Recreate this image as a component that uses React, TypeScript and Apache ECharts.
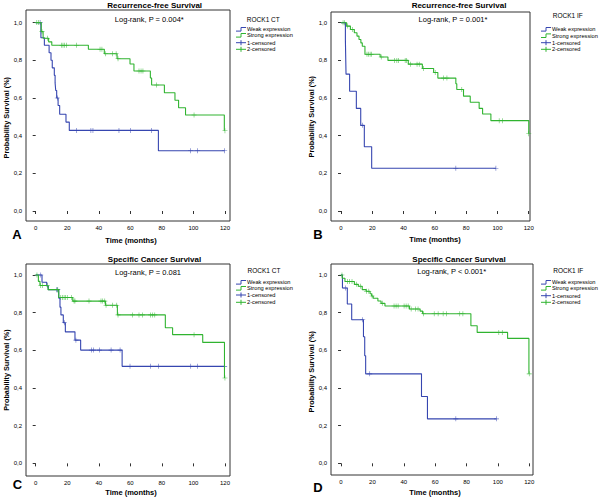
import React, { useEffect, useRef } from 'react';
import * as echarts from 'echarts';

// ---------- tick labels ----------
const xTicks = [0, 20, 40, 60, 80, 100, 120];
const yTicks = [0, 0.2, 0.4, 0.6, 0.8, 1.0];

// ---------- Panel A: Recurrence-free Survival, ROCK1 CT ----------
const aWeakTime = [0, 3.3, 5.5, 8.5, 9.7, 10.5, 11.8, 12.3, 12.7, 13.3, 14.2, 15.2, 19.2, 21.3, 77.8, 119.8];
const aWeakSurv = [1, 0.92, 0.88, 0.84, 0.8, 0.76, 0.72, 0.68, 0.64, 0.6, 0.56, 0.514, 0.472, 0.428, 0.32, 0.32];
const aWeakCens = [2.8, 13.7, 26, 35, 36.3, 52.8, 60, 73.3, 98.2, 102.7, 119.8];
const aStrongTime = [0, 3.5, 4.7, 8.2, 10.2, 33.4, 43.5, 51.6, 59.8, 62.3, 72.7, 73.5, 81.6, 88.3, 90.6, 95, 119.6];
const aStrongSurv = [1, 0.952, 0.917, 0.898, 0.88, 0.859, 0.835, 0.808, 0.78, 0.743, 0.706, 0.669, 0.628, 0.588, 0.548, 0.51, 0.426];
const aStrongCens = [0.7, 1.7, 4, 7.4, 16.5, 17.3, 18.3, 19.6, 26, 40.8, 42, 44.4, 48.6, 51, 52.2, 65.5, 66.8, 68, 76.7, 100.4, 120];

// ---------- Panel B: Recurrence-free Survival, ROCK1 IF ----------
const bWeakTime = [0, 2.8, 3.0, 3.2, 5.5, 9.8, 12.6, 14.9, 19.6, 99];
const bWeakSurv = [1, 0.909, 0.818, 0.727, 0.636, 0.545, 0.455, 0.341, 0.227, 0.227];
const bWeakCens = [13.8, 73.4, 99];
const bStrongTime = [0, 3.6, 6, 8.5, 10.2, 11.5, 12.7, 13.6, 15.3, 25, 30, 43, 52, 59.2, 61.9, 73.4, 74, 78.3, 82.6, 88.3, 90.5, 95.8, 120];
const bStrongSurv = [1, 0.982, 0.964, 0.947, 0.929, 0.911, 0.893, 0.875, 0.833, 0.818, 0.8, 0.78, 0.757, 0.736, 0.706, 0.676, 0.645, 0.61, 0.578, 0.545, 0.515, 0.48, 0.41];
const bStrongCens = [1.3, 2.1, 4.3, 7.2, 16.6, 17.6, 18.6, 19.6, 25.7, 34.2, 35.7, 36.7, 41, 42, 44.3, 48.6, 50, 52.8, 60.2, 65.5, 67.7, 77.2, 101.1, 103.2, 120];

// ---------- Panel C: Specific Cancer Survival, ROCK1 CT ----------
const cWeakTime = [0, 4, 7, 8, 14.6, 15.4, 16, 17.5, 18.8, 24.9, 28.5, 54.8, 119.8];
const cWeakSurv = [1, 0.961, 0.941, 0.922, 0.877, 0.829, 0.788, 0.746, 0.698, 0.654, 0.601, 0.515, 0.515];
const cWeakCens = [3.2, 13.3, 14, 18.2, 25.5, 35.3, 36.6, 40.4, 47.8, 53.5, 59.8, 72.9, 77.8, 98.3, 102.7, 119.8];
const cStrongTime = [0, 1.7, 2.7, 7.8, 14.6, 23.5, 44.2, 51.8, 82.2, 86.8, 105.9, 119.7];
const cStrongSurv = [1, 0.966, 0.944, 0.922, 0.88, 0.861, 0.839, 0.788, 0.72, 0.683, 0.642, 0.453];
const cStrongCens = [0.8, 3.2, 4.4, 7.4, 13.7, 15.9, 17, 18, 19, 20, 22.8, 24.3, 24.9, 33.8, 41.4, 42.5, 43.8, 44.6, 48.6, 51.4, 52.2, 61.5, 65.5, 67.7, 72.9, 74.2, 75.5, 100.4, 120];

// ---------- Panel D: Specific Cancer Survival, ROCK1 IF ----------
const dWeakTime = [0, 0.9, 4, 6.8, 14.3, 15.1, 15.7, 51.3, 55.1, 99.1];
const dWeakSurv = [1, 0.931, 0.846, 0.762, 0.672, 0.571, 0.475, 0.355, 0.236, 0.236];
const dWeakCens = [2.8, 13.8, 18.3, 73.2, 99.1];
const dStrongTime = [0, 0.8, 2.5, 8.5, 11, 13.5, 16, 18.5, 19.5, 20.5, 23.5, 25.5, 28, 43.6, 50.4, 52, 82.8, 86.8, 106.2, 119.8];
const dStrongSurv = [1, 0.982, 0.965, 0.95, 0.94, 0.922, 0.913, 0.9, 0.888, 0.876, 0.862, 0.849, 0.835, 0.819, 0.808, 0.794, 0.73, 0.695, 0.663, 0.475];
const dStrongCens = [0.6, 4, 5.5, 7, 9.8, 12.3, 16.2, 17.7, 19.8, 26.3, 33.8, 35.1, 36.4, 40.2, 41.5, 42.8, 44.7, 47.4, 49.1, 52.6, 59.4, 61.9, 65.1, 67.2, 75.7, 77.7, 100.6, 102.8, 120];

// ---------- texts ----------
const titles = ['Recurrence-free Survival', 'Recurrence-free Survival', 'Specific Cancer Survival', 'Specific Cancer Survival'];
const logRanks = ['Log-rank, P = 0.004*', 'Log-rank, P = 0.001*', 'Log-rank, P = 0.081', 'Log-rank, P < 0.001*'];
const legendTitles = ['ROCK1 CT', 'ROCK1 IF', 'ROCK1 CT', 'ROCK1 IF'];
const legendItems = ['Weak expression', 'Strong expression', '1-censored', '2-censored'];
const letters = ['A', 'B', 'C', 'D'];
const xName = 'Time (months)';
const yName = 'Probability Survival (%)';

const BLUE = '#3646b0';
const GREEN = '#30b430';
const AX = '#333';
const FONT = '"Liberation Sans", Arial, sans-serif';

// layout (positions only)
const layout = [
  { grid: { left: 26, top: 10, width: 204, height: 211 }, x: [-6.15, 123.2], y: [-0.053, 1.067],
    title: [154.7, 5.8], lr: [149.3, 19], lt: [263.3, 19], li: [236, 247, [29.3, 35.3, 42.7, 49.3]], letter: [17, 234], xn: [131, 240], yn: [6, 117.7] },
  { grid: { left: 331, top: 12, width: 199, height: 209 }, x: [-6.4, 120.8], y: [-0.053, 1.057],
    title: [459, 5.8], lr: [453, 19], lt: [567.7, 15.7], li: [541, 552, [29.3, 35.7, 42.7, 49.3]], letter: [318, 234], xn: [435, 239.5], yn: [311, 116.7] },
  { grid: { left: 26, top: 264, width: 204, height: 212 }, x: [-6.15, 123.2], y: [-0.067, 1.058],
    title: [154.5, 259], lr: [148, 272.3], lt: [264, 270.7], li: [236, 247, [282.3, 288.3, 295, 302.3]], letter: [17.5, 484.5], xn: [131, 492.5], yn: [6, 370] },
  { grid: { left: 331, top: 264, width: 202, height: 211 }, x: [-6.4, 122.4], y: [-0.062, 1.058],
    title: [459, 259], lr: [451.7, 271.7], lt: [568.3, 270.7], li: [541, 552, [282.3, 288.3, 295.7, 302.3]], letter: [318, 487.5], xn: [435, 492.5], yn: [311, 371.7] },
];

const curves = [
  { wt: aWeakTime, ws: aWeakSurv, wc: aWeakCens, st: aStrongTime, ss: aStrongSurv, sc: aStrongCens },
  { wt: bWeakTime, ws: bWeakSurv, wc: bWeakCens, st: bStrongTime, ss: bStrongSurv, sc: bStrongCens },
  { wt: cWeakTime, ws: cWeakSurv, wc: cWeakCens, st: cStrongTime, ss: cStrongSurv, sc: cStrongCens },
  { wt: dWeakTime, ws: dWeakSurv, wc: dWeakCens, st: dStrongTime, ss: dStrongSurv, sc: dStrongCens },
];

function levelAt(times: number[], surv: number[], t: number) {
  let v = surv[0];
  for (let i = 0; i < times.length; i++) if (times[i] <= t) v = surv[i];
  return v;
}

const PLUS = 'path://M4.4,0 h1.2 v10 h-1.2 z M0,4.4 h10 v1.2 h-10 z';

function txt(text: string, x: number, y: number, font: string, align = 'center', extra: any = {}) {
  return {
    type: 'text', x, y, silent: true, ...extra,
    style: { text, x: 0, y: 0, font, fill: '#000', align, textAlign: align, verticalAlign: 'middle', textVerticalAlign: 'middle' },
  };
}

function buildOption() {
  const grid: any[] = [];
  const xAxis: any[] = [];
  const yAxis: any[] = [];
  const series: any[] = [];
  const graphic: any[] = [];

  layout.forEach((L, p) => {
    grid.push({ ...L.grid, show: true, borderColor: AX, borderWidth: 1, backgroundColor: 'transparent' });
    xAxis.push({
      type: 'value', gridIndex: p, min: L.x[0], max: L.x[1],
      axisLine: { show: false }, splitLine: { show: false },
      axisTick: { show: true, customValues: xTicks, length: 3, lineStyle: { color: AX } },
      axisLabel: { customValues: xTicks, fontSize: 6, margin: 4, color: '#000', fontFamily: FONT },
    });
    yAxis.push({
      type: 'value', gridIndex: p, min: L.y[0], max: L.y[1],
      axisLine: { show: false }, splitLine: { show: false },
      axisTick: { show: true, customValues: yTicks, length: 3, lineStyle: { color: AX } },
      axisLabel: {
        customValues: yTicks, fontSize: 6, margin: 4, color: '#000', fontFamily: FONT,
        formatter: (v: number) => v.toFixed(1).replace('.', ','),
      },
    });
    const c = curves[p];
    const groups = [
      { t: c.wt, s: c.ws, cens: c.wc, color: BLUE },
      { t: c.st, s: c.ss, cens: c.sc, color: GREEN },
    ];
    groups.forEach((g) => {
      series.push({
        type: 'line', xAxisIndex: p, yAxisIndex: p, step: 'end', showSymbol: false, silent: true,
        data: g.t.map((t, i) => [t, g.s[i]]),
        lineStyle: { color: g.color, width: 1.1 },
      });
    });
    groups.forEach((g) => {
      series.push({
        type: 'scatter', xAxisIndex: p, yAxisIndex: p, silent: true,
        symbol: PLUS, symbolSize: [5, 5],
        itemStyle: { color: g.color },
        data: g.cens.map((t) => [t, levelAt(g.t, g.s, t)]),
      });
    });

    // texts
    graphic.push(txt(titles[p], L.title[0], L.title[1], `bold 8px ${FONT}`));
    graphic.push(txt(logRanks[p], L.lr[0], L.lr[1], `7.5px ${FONT}`));
    graphic.push(txt(legendTitles[p], L.lt[0], L.lt[1], `6.5px ${FONT}`));
    graphic.push(txt(letters[p], L.letter[0], L.letter[1], `bold 13px ${FONT}`));
    graphic.push(txt(xName, L.xn[0], L.xn[1], `bold 7.5px ${FONT}`));
    graphic.push(txt(yName, L.yn[0], L.yn[1], `bold 7.3px ${FONT}`, 'center', { rotation: Math.PI / 2 }));

    const [sx, tx, ys] = L.li as [number, number, number[]];
    legendItems.forEach((name, i) => {
      const y = ys[i];
      const color = i % 2 === 0 ? BLUE : GREEN;
      if (i < 2) {
        graphic.push({
          type: 'polyline', silent: true,
          shape: { points: [[sx, y + 1.8], [sx + 5, y + 1.8], [sx + 5, y - 1.8], [sx + 10, y - 1.8]] },
          style: { stroke: color, lineWidth: 1, fill: null },
        });
      } else {
        graphic.push({ type: 'line', silent: true, shape: { x1: sx, y1: y, x2: sx + 10, y2: y }, style: { stroke: color, lineWidth: 1 } });
        graphic.push({ type: 'line', silent: true, shape: { x1: sx + 5, y1: y - 2.5, x2: sx + 5, y2: y + 2.5 }, style: { stroke: color, lineWidth: 1 } });
      }
      graphic.push(txt(name, tx, y, `5.7px ${FONT}`, 'left'));
    });
  });

  return {
    animation: false,
    backgroundColor: '#fff',
    grid, xAxis, yAxis, series, graphic,
  };
}

export default function App() {
  const ref = useRef<HTMLDivElement>(null);
  useEffect(() => {
    if (!ref.current) return;
    const chart = echarts.init(ref.current, undefined, { renderer: 'svg' });
    chart.setOption(buildOption() as any);
    return () => chart.dispose();
  }, []);
  return (
    <div
      ref={ref}
      style={{ position: 'absolute', left: 0, top: 0, width: 600, height: 499, background: '#fff' }}
    />
  );
}
